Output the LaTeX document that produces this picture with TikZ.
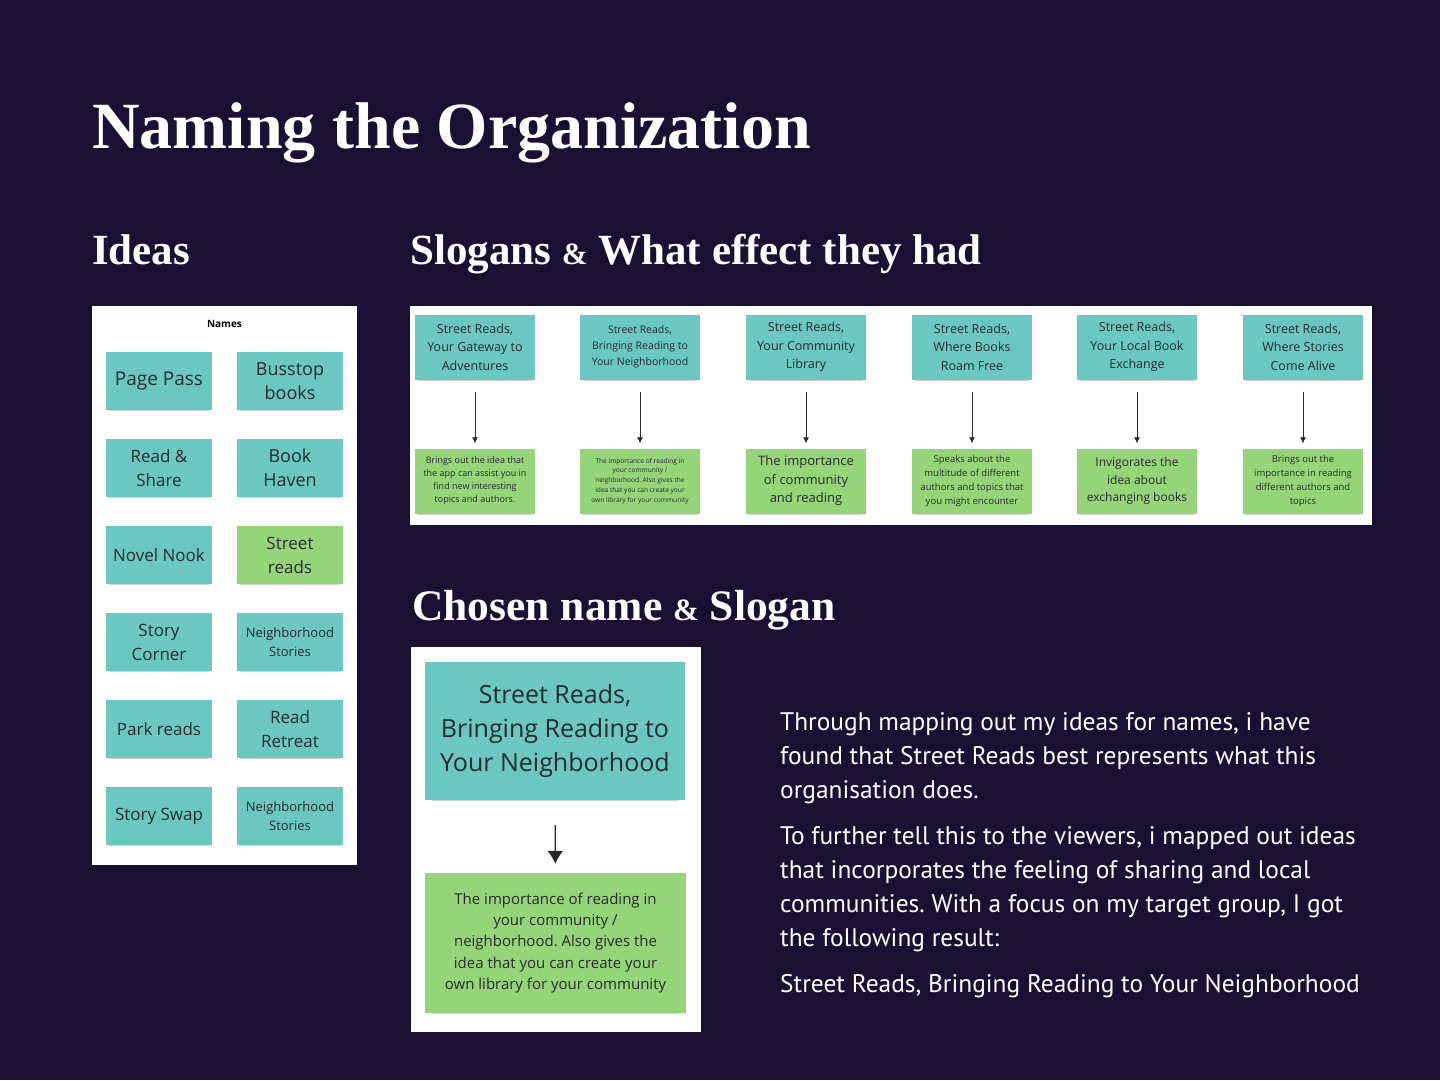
\documentclass[tikz,border=0pt]{standalone}
\usepackage{fontspec}
\setmainfont{Open Sans}
\newfontfamily\headfont{Liberation Serif}
\newfontfamily\parafont{PT Sans}
\usetikzlibrary{arrows.meta,shadows}

\definecolor{night}{RGB}{25,16,52}
\definecolor{tealnote}{RGB}{106,200,193}
\definecolor{leafnote}{RGB}{150,212,122}
\definecolor{ink}{RGB}{40,42,46}

\newcommand{\fs}[2]{\fontsize{#1}{#2}\selectfont}
\frenchspacing

\begin{document}
\begin{tikzpicture}[x=1pt, y=-1pt, >=latex,
    note/.style={rectangle, inner sep=0pt, align=center, text=ink,
        drop shadow={shadow xshift=0pt, shadow yshift=-3pt, shadow scale=0.95, opacity=0.18, fill=black}},
    idea/.style={note, fill=tealnote, minimum width=106pt, minimum height=58pt},
    pick/.style={idea, fill=leafnote},
    slogan/.style={note, fill=tealnote, minimum width=120pt, minimum height=65pt},
    effect/.style={note, fill=leafnote, minimum width=120pt, minimum height=65pt},
    heading/.style={anchor=base west, inner sep=0pt, text=white, font=\headfont\bfseries},
    para/.style={anchor=base west, inner sep=0pt, text=white, font=\parafont\fs{25.4}{30}},
    arr/.style={->, >={Latex[length=6pt, width=6pt]}, thick, ink},
    ]
    % 1. Nền và khung
    \fill[night] (0,0) rectangle (1440,1080);
    \useasboundingbox (0,0) rectangle (1440,1080);

    % 2. Tiêu đề
    \node[heading, font=\headfont\bfseries\fs{66}{66}] (title) at (92,148) {Naming the Organization};
    \node[heading, font=\headfont\bfseries\fs{43}{43}] (hideas) at (92,264) {Ideas};
    \node[heading, font=\headfont\bfseries\fs{43}{43}] (hslogans) at (410,264)
        {Slogans {\fs{31}{31}\&} What effect they had};
    \node[heading, font=\headfont\bfseries\fs{43.5}{43.5}] (hchosen) at (412,620)
        {Chosen name {\fs{31}{31}\&} Slogan};

    % 3. Bảng tên (Ideas)
    \fill[white] (92,306) rectangle (357,865);
    \node[font=\bfseries\fs{10}{10}] (names) at (224.5,324) {Names};

    \node[idea, font=\fs{19}{24}] (pagepass) at (159,381) {Page Pass};
    \node[idea, font=\fs{18}{24}] (busstop) at (290,381) {Busstop\\books};
    \node[idea, font=\fs{17}{24}] (readshare) at (159,468) {Read \&\\Share};
    \node[idea, font=\fs{18}{24}] (haven) at (290,468) {Book\\Haven};
    \node[idea, font=\fs{17}{24}] (nook) at (159,555) {Novel Nook};
    \node[pick, font=\fs{17}{24}] (street) at (290,555) {Street\\reads};
    \node[idea, font=\fs{17}{24}] (corner) at (159,642) {Story\\Corner};
    \node[idea, font=\fs{13}{19}] (stories) at (290,642) {Neighborhood\\Stories};
    \node[idea, font=\fs{17}{24}] (park) at (159,729) {Park reads};
    \node[idea, font=\fs{17}{24}] (retreat) at (290,729) {Read\\Retreat};
    \node[idea, font=\fs{17}{24}] (swap) at (159,816) {Story Swap};
    \node[idea, font=\fs{13}{19}] (stories2) at (290,816) {Neighborhood\\Stories};

    % 4. Dải khẩu hiệu và hiệu quả
    \fill[white] (410,306) rectangle (1372,525);

    \node[slogan, font=\fs{12.5}{18.5}] (s1) at (475,347) {Street Reads,\\Your Gateway to\\Adventures};
    \node[slogan, font=\fs{10.5}{16}] (s2) at (640,347) {Street Reads,\\Bringing Reading to\\Your Neighborhood};
    \node[slogan, font=\fs{12.5}{18.5}] (s3) at (806,347) {Street Reads,\\Your Community\\Library};
    \node[slogan, font=\fs{12.5}{18.5}] (s4) at (972,347) {Street Reads,\\Where Books\\Roam Free};
    \node[slogan, font=\fs{12.5}{18.5}] (s5) at (1137,347) {Street Reads,\\Your Local Book\\Exchange};
    \node[slogan, font=\fs{12.5}{18.5}] (s6) at (1303,347) {Street Reads,\\Where Stories\\Come Alive};

    \node[effect, font=\fs{9}{13}] (e1) at (475,481)
        {Brings out the idea that\\the app can assist you in\\find new interesting\\topics and authors.};
    \node[effect, font=\fs{6.6}{9.8}] (e2) at (640,481)
        {The importance of reading in\\your community /\\neighborhood. Also gives the\\idea that you can create your\\own library for your community};
    \node[effect, font=\fs{13}{18.5}] (e3) at (806,481) {The importance\\of community\\and reading};
    \node[effect, font=\fs{9.5}{14}] (e4) at (972,481)
        {Speaks about the\\multitude of different\\authors and topics that\\you might encounter};
    \node[effect, font=\fs{12}{17.5}] (e5) at (1137,481) {Invigorates the\\idea about\\exchanging books};
    \node[effect, font=\fs{9.5}{14}] (e6) at (1303,481)
        {Brings out the\\importance in reading\\different authors and\\topics};

    \foreach \i in {1,...,6}
        \draw[arr, shorten <=12pt, shorten >=5pt] (s\i) -- (e\i);

    % 5. Tên và khẩu hiệu được chọn
    \fill[white] (411,647) rectangle (701,1032);
    \node[slogan, minimum width=260pt, minimum height=138pt, font=\fs{25}{34},
        drop shadow={shadow xshift=0pt, shadow yshift=-5pt, shadow scale=0.95, opacity=0.18, fill=black}]
        (chosen) at (555,731) {Street Reads,\\Bringing Reading to\\Your Neighborhood};
    \node[effect, minimum width=261pt, minimum height=140pt, font=\fs{15}{21.3},
        drop shadow={shadow xshift=0pt, shadow yshift=-5pt, shadow scale=0.95, opacity=0.18, fill=black}]
        (reason) at (555.5,943)
        {The importance of reading in\\your community /\\neighborhood. Also gives the\\idea that you can create your\\own library for your community};
    \draw[->, >={Latex[length=13pt, width=16pt]}, very thick, ink, shorten <=25pt, shorten >=9pt]
        (chosen) -- (reason);

    % 6. Đoạn giải thích
    \node[para] (p1) at (780,730) {Through mapping out my ideas for names, i have};
    \node[para] (p2) at (780,764) {found that Street Reads best represents what this};
    \node[para] (p3) at (780,798) {organisation does.};
    \node[para] (p4) at (780,844) {To further tell this to the viewers, i mapped out ideas};
    \node[para] (p5) at (780,878) {that incorporates the feeling of sharing and local};
    \node[para] (p6) at (780,912) {communities. With a focus on my target group, I got};
    \node[para] (p7) at (780,946) {the following result:};
    \node[para] (p8) at (780,992) {Street Reads, Bringing Reading to Your Neighborhood};
\end{tikzpicture}
\end{document}
